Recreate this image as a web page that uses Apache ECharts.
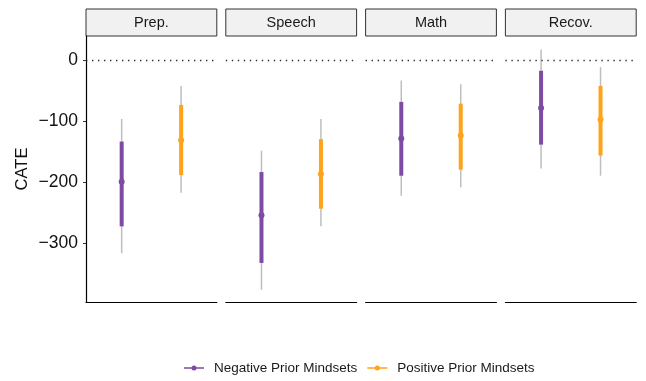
<!DOCTYPE html>
<html><head><meta charset="utf-8">
<script src="https://cdn.jsdelivr.net/npm/echarts@6/dist/echarts.min.js"></script>
<style>html,body{margin:0;padding:0;background:#fff}#c{width:646px;height:381px}</style>
</head><body><div id="c"></div>
<script>
const facets = ['Prep.', 'Speech', 'Math', 'Recov.'];
const groups = ['Negative Prior Mindsets', 'Positive Prior Mindsets'];
const colors = ['#7D4BA4', '#FFA31A'];
// per facet values
const negEst  = [-200, -255, -129, -79];
const negLo50 = [-273, -333, -190, -139];
const negHi50 = [-134, -184, -69, -18];
const negLo95 = [-317, -377, -223, -178];
const negHi95 = [-97, -149, -34, 17];
const posEst  = [-132, -187, -124, -98];
const posLo50 = [-189, -244, -180, -157];
const posHi50 = [-74, -130, -72, -43];
const posLo95 = [-218, -273, -209, -190];
const posHi95 = [-43, -97, -40, -12];
const yTicks = [-300, -200, -100, 0];

const FONT = 'Liberation Sans, Arial, Helvetica, sans-serif';
const L0 = 86, STEP = 139.8, W = 130.8, TOP = 36, BOT = 79;
const grids = [], xAxes = [], yAxes = [], series = [], graphics = [];
const groupData = [
  [negEst, negLo50, negHi50, negLo95, negHi95],
  [posEst, posLo50, posHi50, posLo95, posHi95]
];
facets.forEach((f, i) => {
  const left = L0 + i * STEP;
  grids.push({ left: left, top: TOP, width: W, bottom: BOT, containLabel: false });
  xAxes.push({ type: 'value', gridIndex: i, min: 0.4, max: 2.6,
    axisLine: { show: true, onZero: false, lineStyle: { color: '#000', width: 1.2 } },
    axisTick: { show: false }, axisLabel: { show: false }, splitLine: { show: false } });
  yAxes.push({ type: 'value', gridIndex: i, min: -397, max: 39,
    axisLine: { show: i === 0, lineStyle: { color: '#000', width: 1.2 } },
    axisTick: { show: i === 0, length: 3, customValues: yTicks, lineStyle: { color: '#333' } },
    axisLabel: { show: i === 0, customValues: yTicks, fontSize: 17.5, color: '#111', fontFamily: FONT, margin: 8,
      formatter: v => String(v).replace('-', '\u2212') },
    splitLine: { show: false },
    name: i === 0 ? 'CATE' : '', nameLocation: 'middle', nameGap: 55, nameRotate: 90,
    nameTextStyle: { fontSize: 16.5, color: '#111', fontFamily: FONT } });
  graphics.push({ type: 'rect', shape: { x: left, y: 9, width: W, height: 27 },
    style: { fill: '#F1F1F1', stroke: '#333', lineWidth: 1 } });
  graphics.push({ type: 'text', x: left + W / 2, y: 23,
    style: { text: f, fontSize: 14.5, fontFamily: FONT, fill: '#1a1a1a', align: 'center', verticalAlign: 'middle' } });
  groups.forEach((g, k) => {
    const d = groupData[k];
    series.push({
      type: 'custom', name: g, xAxisIndex: i, yAxisIndex: i,
      itemStyle: { color: colors[k] },
      data: [[k + 1, d[0][i], d[1][i], d[2][i], d[3][i], d[4][i]]],
      renderItem: function (params, api) {
        const x = api.value(0);
        const pE = api.coord([x, api.value(1)]);
        const p50a = api.coord([x, api.value(2)]);
        const p50b = api.coord([x, api.value(3)]);
        const p95a = api.coord([x, api.value(4)]);
        const p95b = api.coord([x, api.value(5)]);
        return { type: 'group', children: [
          { type: 'line', shape: { x1: p95a[0], y1: p95a[1], x2: p95b[0], y2: p95b[1] },
            style: { stroke: '#BEBEBE', lineWidth: 1.5 } },
          { type: 'line', shape: { x1: p50a[0], y1: p50a[1], x2: p50b[0], y2: p50b[1] },
            style: { stroke: colors[k], lineWidth: 4 } },
          { type: 'circle', shape: { cx: pE[0], cy: pE[1], r: 3 }, style: { fill: colors[k] } }
        ] };
      },
      markLine: k === 0 ? { silent: true, symbol: 'none', label: { show: false },
        lineStyle: { color: '#333', width: 1.4, type: [1.4, 4.6] },
        data: [{ yAxis: 0 }] } : undefined,
      z: 3
    });
  });
});
const icon = 'path://M0,2.2L20,2.2L20,3.8L0,3.8Z M7.5,3a2.5,2.5 0 1,1 5,0a2.5,2.5 0 1,1 -5,0Z';
const chart = echarts.init(document.getElementById('c'), null, { renderer: 'canvas' });
chart.setOption({
  animation: false,
  backgroundColor: '#fff',
  grid: grids, xAxis: xAxes, yAxis: yAxes, series: series,
  legend: { data: groups.map((g, k) => ({ name: g, icon: icon, itemStyle: { color: colors[k] } })),
    top: 356, left: 179, itemWidth: 20, itemHeight: 5, itemGap: 10,
    textStyle: { fontSize: 13.5, color: '#1a1a1a', fontFamily: FONT, padding: [0, 0, 0, 5] } },
  graphic: graphics
});
</script></body></html>
